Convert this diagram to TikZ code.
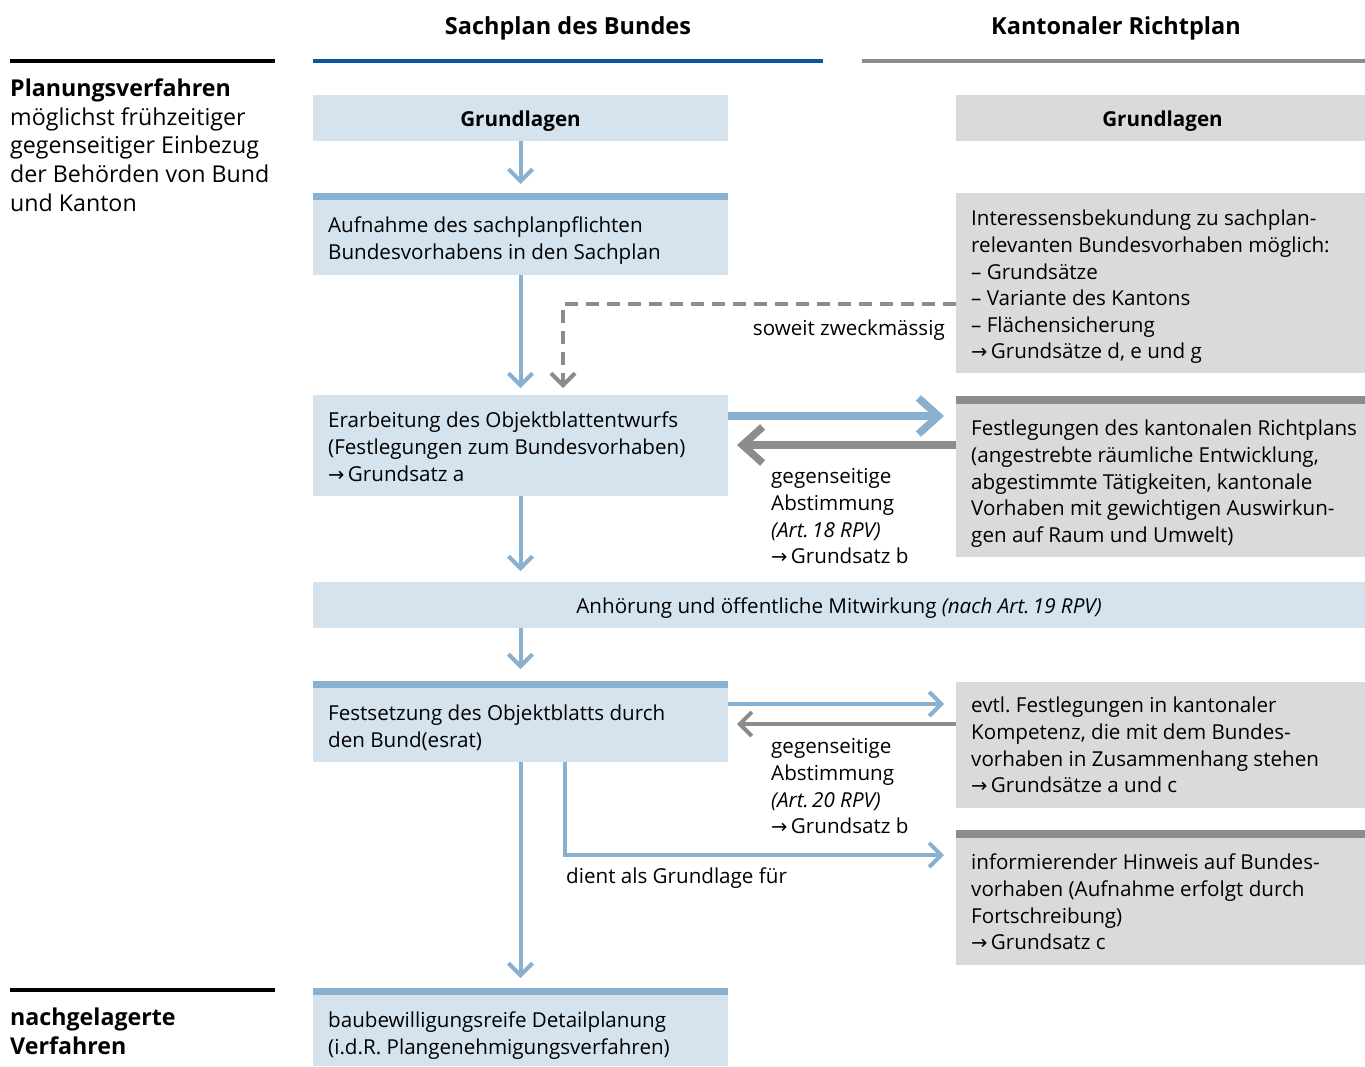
\documentclass[tikz,border=0pt]{standalone}
\usepackage{fontspec}
\setmainfont{Open Sans}
\newfontfamily\arrfont{DejaVu Sans}
\newcommand\myarr{{\arrfont\fontsize{19.5}{19.5}\selectfont →}\,}
\usetikzlibrary{arrows.meta}
\definecolor{lblue}{HTML}{D5E3EE}
\definecolor{mblue}{HTML}{8AB0D0}
\definecolor{dblue}{HTML}{0B559F}
\definecolor{lgray}{HTML}{D9DAD9}
\definecolor{mgray}{HTML}{8C8C8C}
\begin{document}
\begin{tikzpicture}[x=1pt,y=-1pt,
  box/.style={inner sep=0pt,outer sep=0pt,anchor=north west},
  bbox/.style={box,fill=lblue},
  gbox/.style={box,fill=lgray},
  txt/.style={inner sep=0pt,anchor=north west,align=left,font=\fontsize{20.6}{26.6}\selectfont},
  ctxt/.style={inner sep=0pt,font=\fontsize{20.6}{26.6}\selectfont},
  lefttxt/.style={inner sep=0pt,anchor=north west,align=left,font=\fontsize{23.2}{28.8}\selectfont},
  head/.style={inner sep=0pt,font=\fontsize{23.5}{26}\selectfont\bfseries},
  flow/.style={draw=mblue,line width=4pt,-{Straight Barb[length=12pt,width=24pt]}},
  gflow/.style={draw=mgray,line width=4pt,-{Straight Barb[length=12pt,width=24pt]}},
  bigflow/.style={draw=mblue,line width=7.5pt,-{Straight Barb[length=20pt,width=36pt]}},
  biggflow/.style={draw=mgray,line width=7.5pt,-{Straight Barb[length=20pt,width=36pt]}},
  dashflow/.style={draw=mgray,line width=4pt,dash pattern=on 13pt off 8pt,-{Straight Barb[length=12pt,width=24pt]}}
]
\useasboundingbox (0,0) rectangle (1365,1066);
\fill[white] (0,0) rectangle (1365,1066);

% headings
\node[head] (h1) at (568,28) {Sachplan des Bundes};
\node[head] (h2) at (1116,28) {Kantonaler Richtplan};
\draw[dblue,line width=4pt] (313,61) -- (823,61);
\draw[mgray,line width=4pt] (862,61) -- (1365,61);
\draw[black,line width=4pt] (10,61) -- (275,61);
\draw[black,line width=4pt] (10,990) -- (275,990);

% left column
\node[lefttxt] (l1) at (10,76) {\strut\textbf{Planungsverfahren}\\möglichst frühzeitiger\\gegenseitiger Einbezug\\der Behörden von Bund\\und Kanton};
\node[lefttxt] (l2) at (10,1005) {\strut\textbf{nachgelagerte}\\\textbf{Verfahren}};

% blue column boxes
\node[bbox,minimum width=415pt,minimum height=46pt] (g1) at (313,95) {};
\node[head,font=\fontsize{20.6}{26}\selectfont\bfseries,yshift=-3.5pt] (g1t) at (g1.center) {Grundlagen};

\fill[mblue] (313,193) rectangle (728,200);
\node[bbox,minimum width=415pt,minimum height=75pt] (b2) at (313,200) {};
\node[txt] (b2t) at (328,214) {\strut Aufnahme des sachplanpflichten\\Bundesvorhabens in den Sachplan};

\node[bbox,minimum width=415pt,minimum height=101pt] (b3) at (313,395) {};
\node[txt] (b3t) at (328,409) {\strut Erarbeitung des Objektblattentwurfs\\(Festlegungen zum Bundesvorhaben)\\\myarr Grundsatz a};

\node[bbox,minimum width=1052pt,minimum height=46pt] (anh) at (313,582) {};
\node[ctxt,yshift=-3.5pt] (anht) at (anh.center) {Anhörung und öffentliche Mitwirkung \textit{(nach Art.\,19 RPV)}};

\fill[mblue] (313,681) rectangle (728,688);
\node[bbox,minimum width=415pt,minimum height=74pt] (b4) at (313,688) {};
\node[txt] (b4t) at (328,702) {\strut Festsetzung des Objektblatts durch\\den Bund(esrat)};

\fill[mblue] (313,988) rectangle (728,995);
\node[bbox,minimum width=415pt,minimum height=71pt] (b5) at (313,995) {};
\node[txt] (b5t) at (328,1009) {\strut baubewilligungsreife Detailplanung\\(i.d.R.\ Plangenehmigungsverfahren)};

% gray column boxes
\node[gbox,minimum width=409pt,minimum height=46pt] (gg) at (956,95) {};
\node[head,font=\fontsize{20.6}{26}\selectfont\bfseries,yshift=-3.5pt,xshift=2pt] (ggt) at (gg.center) {Grundlagen};

\node[gbox,minimum width=409pt,minimum height=180pt] (k1) at (956,193) {};
\node[txt] (k1t) at (971,207) {\strut Interessensbekundung zu sachplan-\\relevanten Bundesvorhaben möglich:\\– Grundsätze\\– Variante des Kantons\\– Flächensicherung\\\myarr Grundsätze d, e und g};

\fill[mgray] (956,396) rectangle (1365,404);
\node[gbox,minimum width=409pt,minimum height=153pt] (k2) at (956,404) {};
\node[txt] (k2t) at (971,417) {\strut Festlegungen des kantonalen Richtplans\\(angestrebte räumliche Entwicklung,\\abgestimmte Tätigkeiten, kantonale\\Vorhaben mit gewichtigen Auswirkun-\\gen auf Raum und Umwelt)};

\node[gbox,minimum width=409pt,minimum height=126pt] (k3) at (956,682) {};
\node[txt] (k3t) at (971,694) {\strut evtl.\ Festlegungen in kantonaler\\Kompetenz, die mit dem Bundes-\\vorhaben in Zusammenhang stehen\\\myarr Grundsätze a und c};

\fill[mgray] (956,830) rectangle (1365,838);
\node[gbox,minimum width=409pt,minimum height=127pt] (k4) at (956,838) {};
\node[txt] (k4t) at (971,851) {\strut informierender Hinweis auf Bundes-\\vorhaben (Aufnahme erfolgt durch\\Fortschreibung)\\\myarr Grundsatz c};

% vertical flow
\draw[flow,shorten >=16pt] (g1.south) -- (b2.north);
\draw[flow,shorten >=7pt] (b2.south) -- (b3.north);
\draw[flow,shorten >=11pt] (b3.south) -- (b3.south |- anh.north);
\draw[flow,shorten >=19pt] (b3.south |- anh.south) -- (b4.north);
\draw[flow,shorten >=17pt] (b4.south) -- (b5.north);

% dashed
\coordinate (d1) at ([yshift=-21pt]k1.west);
\coordinate (d2) at ([xshift=42.5pt,yshift=7pt]b3.north);
\draw[dashflow] (d1) -| (d2);
\node[ctxt,anchor=east] (sz) at (945,330) {soweit zweckmässig};

% mutual coordination 1
\coordinate (a1) at ([yshift=-21pt]b3.north east);
\draw[bigflow,shorten >=12pt] (a1) -- (a1 -| k2.west);
\coordinate (a2) at ([yshift=-41pt]k2.north west);
\draw[biggflow,shorten >=9pt] (a2) -- (a2 -| b3.east);
\node[txt] (m1) at (771,465) {\strut gegenseitige\\Abstimmung\\\textit{(Art.\,18 RPV)}\\\myarr Grundsatz b};

% mutual coordination 2
\coordinate (a3) at ([yshift=-16pt]b4.north east);
\draw[flow,shorten >=12pt] (a3) -- (a3 -| k3.west);
\coordinate (a4) at ([yshift=-42pt]k3.north west);
\draw[gflow,shorten >=9pt] (a4) -- (a4 -| b4.east);
\node[txt] (m2) at (771,735) {\strut gegenseitige\\Abstimmung\\\textit{(Art.\,20 RPV)}\\\myarr Grundsatz b};

% basis for
\coordinate (a5) at ([xshift=44.5pt]b4.south);
\coordinate (a6) at ([yshift=-17pt]k4.north west);
\draw[flow,shorten >=12pt] (a5) |- (a6);
\node[ctxt,anchor=west] (dg) at (566,878) {dient als Grundlage für};
\end{tikzpicture}
\end{document}
